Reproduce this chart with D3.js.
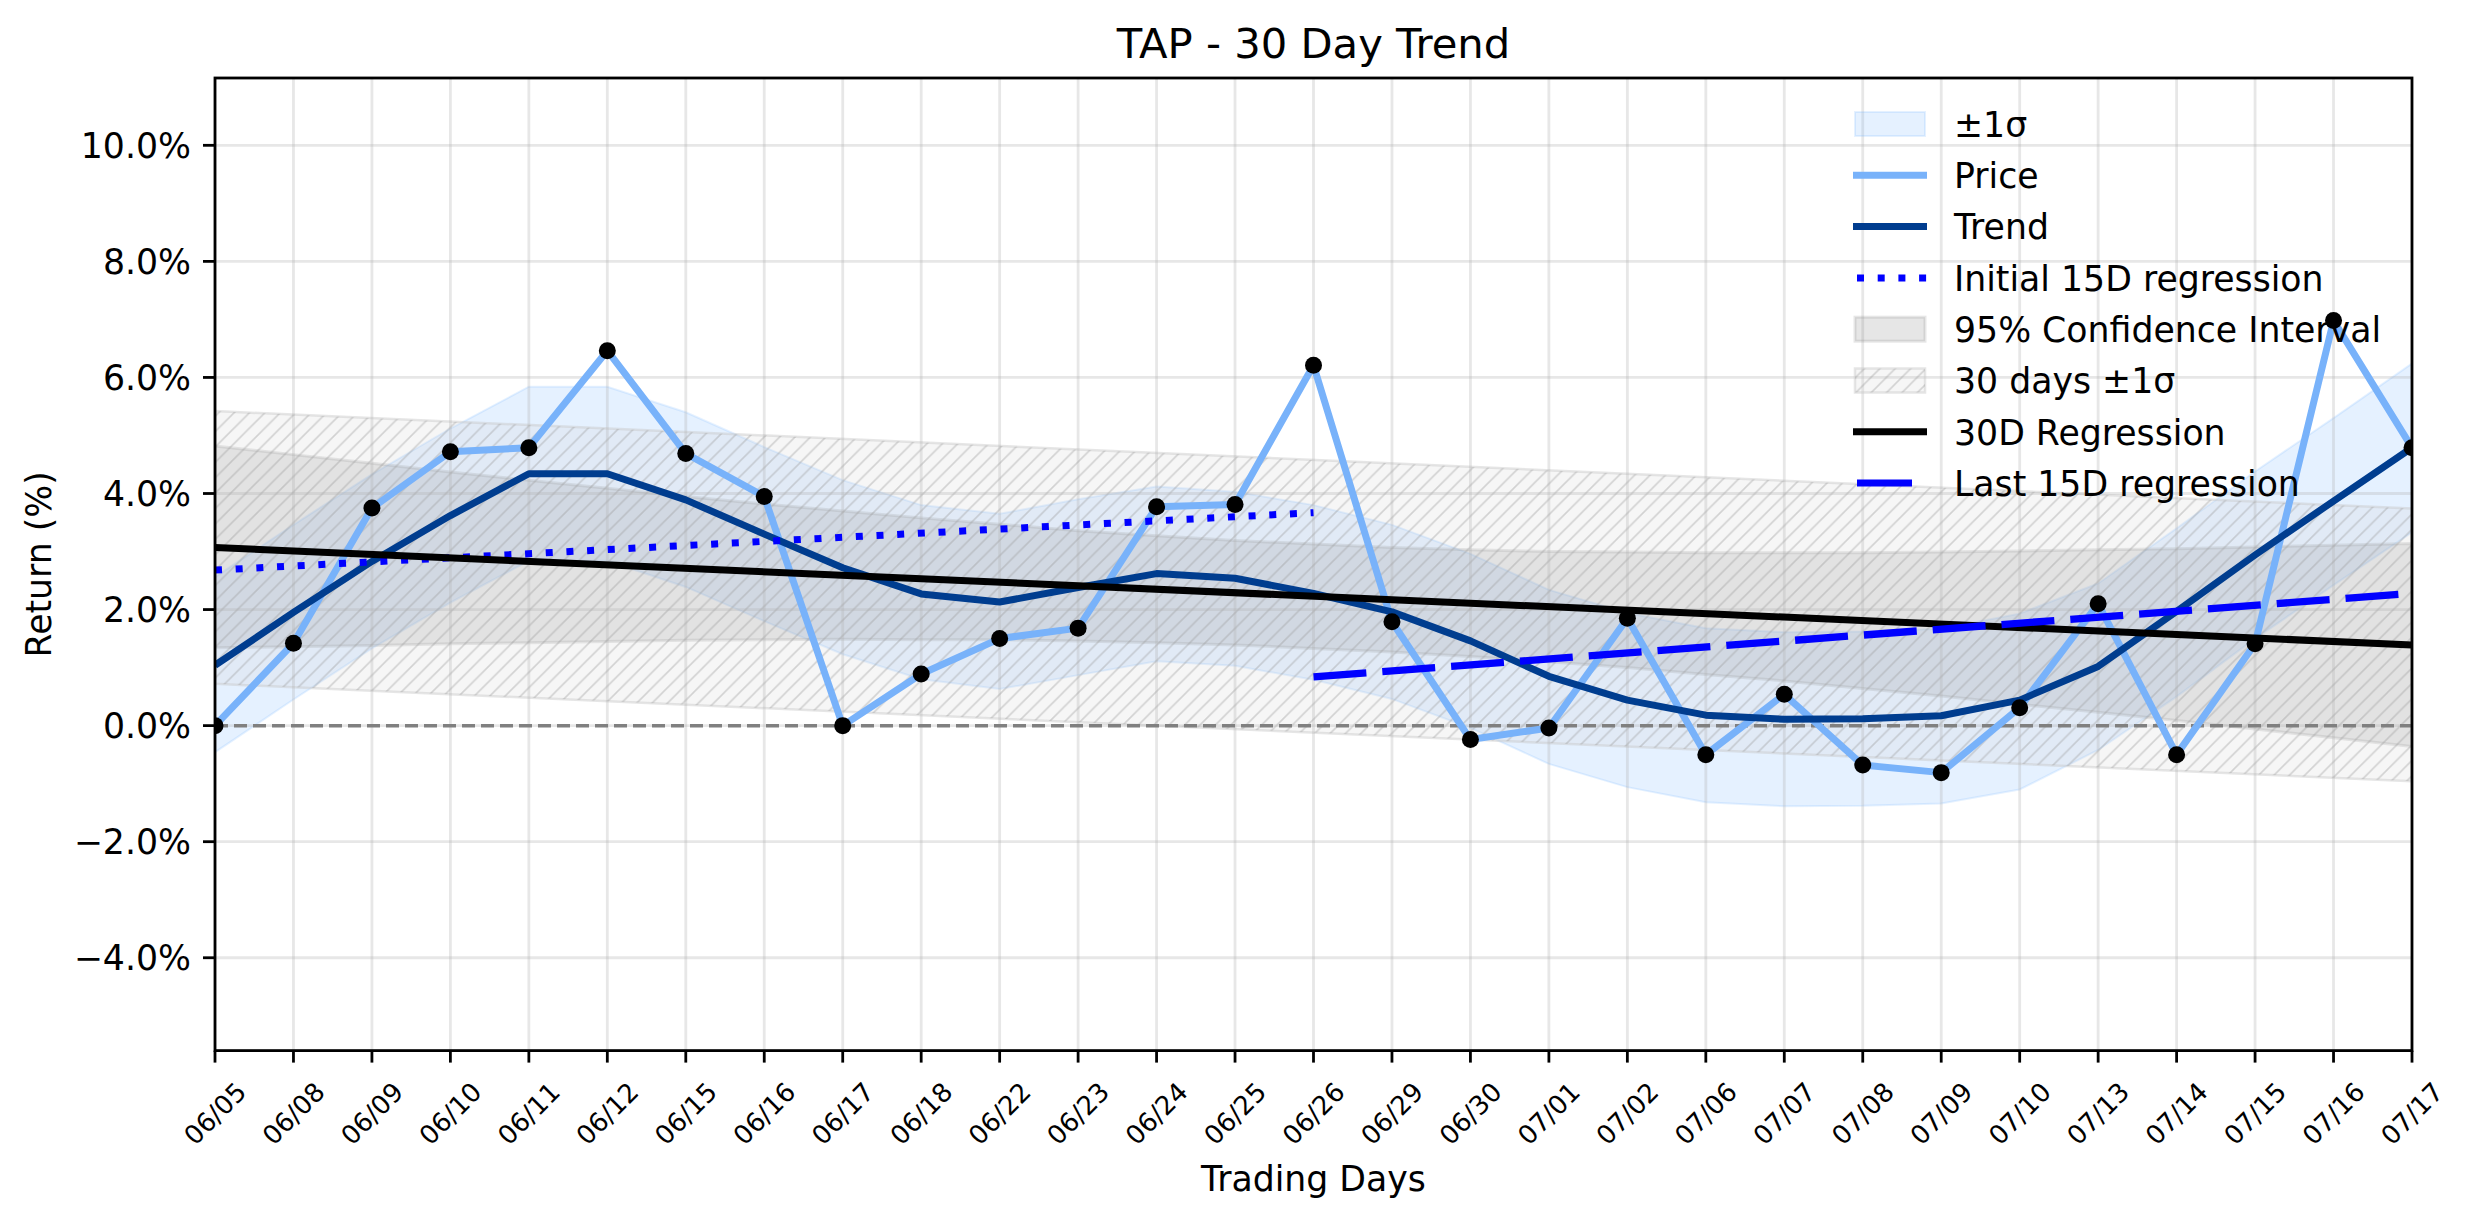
<!DOCTYPE html>
<meta charset="utf-8">
<style>
body { margin: 0; background: #fff; }
text { font-family: "DejaVu Sans", sans-serif; fill: #000; }
</style>
<body>
<script src="https://d3js.org/d3.v7.min.js"></script>
<script>
// trading days (x ticks)
var dates = ["06/05","06/08","06/09","06/10","06/11","06/12","06/15","06/16","06/17","06/18",
             "06/22","06/23","06/24","06/25","06/26","06/29","06/30","07/01","07/02","07/06",
             "07/07","07/08","07/09","07/10","07/13","07/14","07/15","07/16","07/17"];

// cumulative return, %
var price = [0.00, 1.42, 3.75, 4.72, 4.79, 6.46, 4.69, 3.95, 0.00, 0.89,
             1.50, 1.68, 3.77, 3.81, 6.21, 1.79, -0.24, -0.04, 1.85, -0.50,
             0.54, -0.68, -0.81, 0.31, 2.10, -0.50, 1.41, 6.98, 4.79];

var trend = [1.04, 1.95, 2.83, 3.62, 4.34, 4.34, 3.89, 3.30, 2.72, 2.27,
             2.13, 2.38, 2.62, 2.54, 2.28, 1.96, 1.46, 0.85, 0.44, 0.18,
             0.11, 0.12, 0.17, 0.44, 1.02, 1.97, 2.94, 3.87, 4.79];

var sigmaUpper = [2.56, 3.46, 4.33, 5.12, 5.84, 5.84, 5.40, 4.80, 4.23, 3.80,
                  3.65, 3.90, 4.12, 4.03, 3.80, 3.46, 2.96, 2.34, 1.94, 1.68,
                  1.61, 1.62, 1.67, 1.93, 2.45, 3.40, 4.38, 5.30, 6.24];
var sigmaLower = [-0.46, 0.45, 1.33, 2.12, 2.84, 2.84, 2.39, 1.80, 1.23, 0.80,
                  0.63, 0.87, 1.11, 1.03, 0.79, 0.46, -0.04, -0.66, -1.06, -1.32,
                  -1.39, -1.38, -1.34, -1.10, -0.42, 0.50, 1.50, 2.42, 3.33];

// 95% confidence interval around the 30D regression
var ciUpper = [4.82, 4.67, 4.52, 4.37, 4.23, 4.09, 3.95, 3.82, 3.70, 3.58,
               3.47, 3.36, 3.27, 3.19, 3.13, 3.07, 3.03, 3.00, 2.99, 2.98,
               2.98, 2.98, 2.99, 3.01, 3.03, 3.05, 3.08, 3.11, 3.14];
var ciLower = [1.34, 1.36, 1.38, 1.41, 1.43, 1.45, 1.47, 1.48, 1.49, 1.48,
               1.48, 1.46, 1.43, 1.39, 1.33, 1.27, 1.19, 1.10, 1.00, 0.88,
               0.77, 0.64, 0.51, 0.37, 0.23, 0.09, -0.06, -0.21, -0.36];

// straight lines: start / end day index and value
var reg30Days = [0, 28],       reg30Values = [3.07, 1.39];
var band30Upper = [5.42, 3.74], band30Lower = [0.72, -0.96];
var initial15Days = [0, 14],   initial15Values = [2.68, 3.67];
var last15Days = [14, 28],     last15Values = [0.84, 2.28];

var yTicks = [-4, -2, 0, 2, 4, 6, 8, 10];
var legendLabels = ["\u00b11\u03c3", "Price", "Trend", "Initial 15D regression",
                    "95% Confidence Interval", "30 days \u00b11\u03c3", "30D Regression", "Last 15D regression"];

var w = 2474, h = 1224;
var pL = 215, pR = 2412, pT = 78, pB = 1050.6;

var svg = d3.select("body").append("svg")
    .attr("width", w)
    .attr("height", h)
    .style("background", "#fff");

var x = d3.scaleLinear().domain([0, dates.length - 1]).range([pL, pR]);
var y = d3.scaleLinear().domain([-5.60, 11.16]).range([pB, pT]);

var defs = svg.append("defs");
defs.append("clipPath").attr("id", "plot")
    .append("rect").attr("x", pL).attr("y", pT)
    .attr("width", pR - pL).attr("height", pB - pT);

var hatch = defs.append("pattern").attr("id", "hatch")
    .attr("patternUnits", "userSpaceOnUse")
    .attr("width", 15.4).attr("height", 15.4);
hatch.append("path")
    .attr("d", "M-3.85,3.85L3.85,-3.85M0,15.4L15.4,0M11.55,19.25L19.25,11.55")
    .attr("stroke", "#9a9a9a").attr("stroke-opacity", 0.4).attr("stroke-width", 1.6);

var idx = d3.range(dates.length);
var area = function(lo, hi) {
    return d3.area().x(function(i){ return x(i); })
        .y0(function(i){ return y(lo[i]); })
        .y1(function(i){ return y(hi[i]); });
};
var line = d3.line().x(function(d){ return x(d[0]); }).y(function(d){ return y(d[1]); });

var plot = svg.append("g").attr("clip-path", "url(#plot)");

// bands
plot.append("path").attr("d", area(sigmaLower, sigmaUpper)(idx))
    .attr("fill", "#70b0ff").attr("fill-opacity", 0.18)
    .attr("stroke", "#70b0ff").attr("stroke-opacity", 0.18).attr("stroke-width", 2);

plot.append("path").attr("d", area(ciLower, ciUpper)(idx))
    .attr("fill", "gray").attr("fill-opacity", 0.2)
    .attr("stroke", "gray").attr("stroke-opacity", 0.2).attr("stroke-width", 3);

var b30 = d3.area().x(function(d, k){ return x(reg30Days[k]); })
    .y0(function(d, k){ return y(band30Lower[k]); })
    .y1(function(d, k){ return y(band30Upper[k]); });
plot.append("path").attr("d", b30(reg30Days))
    .attr("fill", "#d3d3d3").attr("fill-opacity", 0.2)
    .attr("stroke", "#c8c8c8").attr("stroke-opacity", 0.45).attr("stroke-width", 2.5);
plot.append("path").attr("d", b30(reg30Days)).attr("fill", "url(#hatch)");

// grid
plot.append("g").selectAll("line").data(idx).enter().append("line")
    .attr("x1", function(i){ return x(i); }).attr("x2", function(i){ return x(i); })
    .attr("y1", pT).attr("y2", pB)
    .attr("stroke", "#b0b0b0").attr("stroke-opacity", 0.3).attr("stroke-width", 2.8);
plot.append("g").selectAll("line").data(yTicks).enter().append("line")
    .attr("y1", function(v){ return y(v); }).attr("y2", function(v){ return y(v); })
    .attr("x1", pL).attr("x2", pR)
    .attr("stroke", "#b0b0b0").attr("stroke-opacity", 0.3).attr("stroke-width", 2.8);

// zero line
plot.append("line").attr("x1", pL).attr("x2", pR).attr("y1", y(0)).attr("y2", y(0))
    .attr("stroke", "gray").attr("stroke-width", 3.5).attr("stroke-dasharray", "13,6");

// lines
plot.append("path").attr("d", line(idx.map(function(i){ return [i, price[i]]; })))
    .attr("fill", "none").attr("stroke", "#78b2fa").attr("stroke-width", 7).attr("stroke-linejoin", "round");
plot.append("path").attr("d", line(idx.map(function(i){ return [i, trend[i]]; })))
    .attr("fill", "none").attr("stroke", "#003d8f").attr("stroke-width", 7).attr("stroke-linejoin", "round");
plot.append("path").attr("d", line(initial15Days.map(function(d, k){ return [d, initial15Values[k]]; })))
    .attr("fill", "none").attr("stroke", "#0000ff").attr("stroke-width", 7).attr("stroke-dasharray", "7,13.7");
plot.append("path").attr("d", line(reg30Days.map(function(d, k){ return [d, reg30Values[k]]; })))
    .attr("fill", "none").attr("stroke", "#000").attr("stroke-width", 7);
plot.append("path").attr("d", line(last15Days.map(function(d, k){ return [d, last15Values[k]]; })))
    .attr("fill", "none").attr("stroke", "#0000ff").attr("stroke-width", 7.3).attr("stroke-dasharray", "53,16");

// markers
plot.append("g").selectAll("circle").data(idx).enter().append("circle")
    .attr("cx", function(i){ return x(i); }).attr("cy", function(i){ return y(price[i]); })
    .attr("r", 8.5).attr("fill", "#000");

// spines
svg.append("rect").attr("x", pL).attr("y", pT).attr("width", pR - pL).attr("height", pB - pT)
    .attr("fill", "none").attr("stroke", "#000").attr("stroke-width", 2.8);

// x ticks
var xt = svg.append("g").selectAll("g").data(idx).enter().append("g");
xt.append("line").attr("x1", function(i){ return x(i); }).attr("x2", function(i){ return x(i); })
    .attr("y1", pB).attr("y2", pB + 12).attr("stroke", "#000").attr("stroke-width", 2.8);
xt.append("text")
    .attr("transform", function(i){ return "translate(" + x(i) + "," + (pB + 63) + ") rotate(-45)"; })
    .attr("text-anchor", "middle").attr("dy", "0.35em")
    .style("font-size", "26px")
    .text(function(i){ return dates[i]; });

// y ticks
var yt = svg.append("g").selectAll("g").data(yTicks).enter().append("g");
yt.append("line").attr("x1", pL - 12).attr("x2", pL)
    .attr("y1", function(v){ return y(v); }).attr("y2", function(v){ return y(v); })
    .attr("stroke", "#000").attr("stroke-width", 2.8);
yt.append("text").attr("x", pL - 24).attr("y", function(v){ return y(v); })
    .attr("text-anchor", "end").attr("dy", "0.36em")
    .style("font-size", "34.7px")
    .text(function(v){ return (v < 0 ? "\u2212" : "") + Math.abs(v).toFixed(1) + "%"; });

// titles
svg.append("text").attr("x", (pL + pR) / 2).attr("y", 58).attr("text-anchor", "middle")
    .style("font-size", "41.7px").text("TAP - 30 Day Trend");
svg.append("text").attr("x", (pL + pR) / 2).attr("y", 1191).attr("text-anchor", "middle")
    .style("font-size", "34.7px").text("Trading Days");
svg.append("text").attr("transform", "translate(51," + ((pT + pB) / 2) + ") rotate(-90)")
    .attr("text-anchor", "middle").style("font-size", "34.7px").text("Return (%)");

// legend
var lx0 = 1853, lx1 = 1927, ly0 = 124, lstep = 51.3;
var lg = svg.append("g");
legendLabels.forEach(function(label, k) {
    var cy = ly0 + k * lstep;
    var g = lg.append("g");
    if (k === 0 || k === 4 || k === 5) {
        var r = g.append("rect").attr("x", lx0 + 2).attr("y", cy - 12).attr("width", lx1 - lx0 - 4).attr("height", 24);
        if (k === 0) r.attr("fill", "#70b0ff").attr("fill-opacity", 0.18).attr("stroke", "#70b0ff").attr("stroke-opacity", 0.18).attr("stroke-width", 2);
        if (k === 4) r.attr("fill", "gray").attr("fill-opacity", 0.2).attr("stroke", "gray").attr("stroke-opacity", 0.2).attr("stroke-width", 3);
        if (k === 5) {
            r.attr("fill", "#d3d3d3").attr("fill-opacity", 0.2).attr("stroke", "#c8c8c8").attr("stroke-opacity", 0.45).attr("stroke-width", 2.5);
            g.append("rect").attr("x", lx0 + 2).attr("y", cy - 12).attr("width", lx1 - lx0 - 4).attr("height", 24).attr("fill", "url(#hatch)");
        }
    } else {
        var l = g.append("line").attr("x1", lx0).attr("x2", lx1).attr("y1", cy).attr("y2", cy).attr("stroke-width", 7);
        if (k === 1) l.attr("stroke", "#78b2fa");
        if (k === 2) l.attr("stroke", "#003d8f");
        if (k === 3) l.attr("stroke", "#0000ff").attr("stroke-dasharray", "7,13.7").attr("x1", lx0 + 4);
        if (k === 6) l.attr("stroke", "#000");
        if (k === 7) l.attr("stroke", "#0000ff").attr("stroke-dasharray", "55,17").attr("x1", lx0 + 4);
    }
    g.append("text").attr("x", 1954).attr("y", cy + 12.7).style("font-size", "34.7px").text(label);
});
</script>
</body>
